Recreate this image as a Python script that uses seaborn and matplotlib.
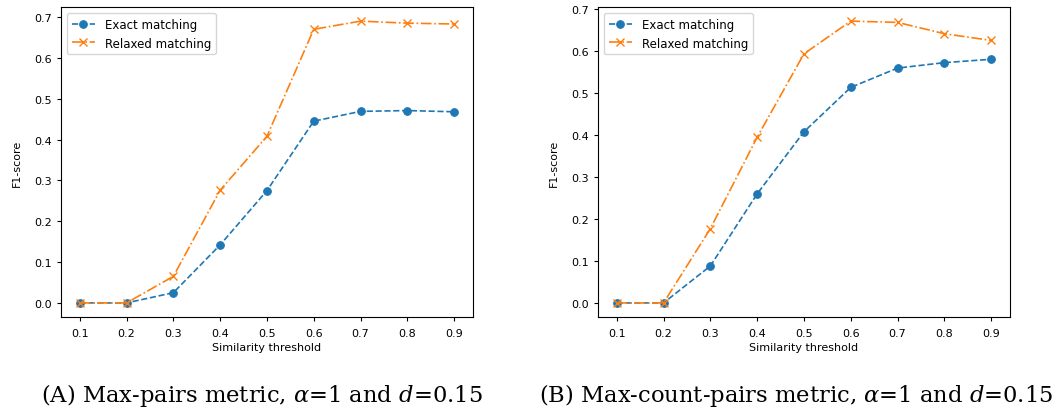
import matplotlib
matplotlib.use("Agg")
import matplotlib.pyplot as plt
import seaborn as sns

# similarity thresholds on the x axis
thresholds = [0.1, 0.2, 0.3, 0.4, 0.5, 0.6, 0.7, 0.8, 0.9]

# (A) max-pairs metric
maxpairs_exact = [0.0, 0.0, 0.025, 0.142, 0.275, 0.445, 0.469, 0.471, 0.468]
maxpairs_relaxed = [0.0, 0.0, 0.065, 0.276, 0.408, 0.670, 0.690, 0.685, 0.683]

# (B) max-count-pairs metric
maxcount_exact = [0.0, 0.0, 0.088, 0.260, 0.408, 0.514, 0.560, 0.573, 0.581]
maxcount_relaxed = [0.0, 0.0, 0.177, 0.395, 0.594, 0.672, 0.669, 0.642, 0.626]

captions = [
    r"(A) Max-pairs metric, $\alpha$=1 and $d$=0.15",
    r"(B) Max-count-pairs metric, $\alpha$=1 and $d$=0.15",
]

BLUE = "#1f77b4"
ORANGE = "#ff7f0e"
FS = 8

plt.rcParams["font.family"] = ["DejaVu Sans"]
plt.rcParams["mathtext.fontset"] = "dejavuserif"

fig = plt.figure(figsize=(10.56, 4.10), dpi=100)
ax_a = fig.add_axes([0.0578, 0.2244, 0.390, 0.756])
ax_b = fig.add_axes([0.5663, 0.2244, 0.390, 0.756])


def draw_panel(ax, exact, relaxed):
    sns.lineplot(x=thresholds, y=exact, ax=ax, color=BLUE, linestyle="--",
                 marker="o", markersize=5.5, markeredgecolor=BLUE, lw=1.2,
                 label="Exact matching")
    sns.lineplot(x=thresholds, y=relaxed, ax=ax, color=ORANGE, linestyle="-.",
                 marker="x", markersize=5.5, markeredgecolor=ORANGE,
                 markeredgewidth=1.0, lw=1.2, label="Relaxed matching")
    ax.set_xticks(thresholds)
    ax.set_xticklabels([f"{t:.1f}" for t in thresholds])
    ax.tick_params(labelsize=FS, length=3)
    ax.tick_params(axis="x", pad=5)
    ax.set_xlabel("Similarity threshold", fontsize=FS, labelpad=3)
    ax.set_ylabel("F1-score", fontsize=FS, labelpad=9)
    ax.legend(loc="upper left", fontsize=8.5, handlelength=2.0)


draw_panel(ax_a, maxpairs_exact, maxpairs_relaxed)
draw_panel(ax_b, maxcount_exact, maxcount_relaxed)

for x, txt in zip([0.248, 0.754], captions):
    fig.text(x, 0.035, txt, ha="center", va="center", fontsize=16.3,
             family="DejaVu Serif")

fig.savefig("out.png", dpi=100)
